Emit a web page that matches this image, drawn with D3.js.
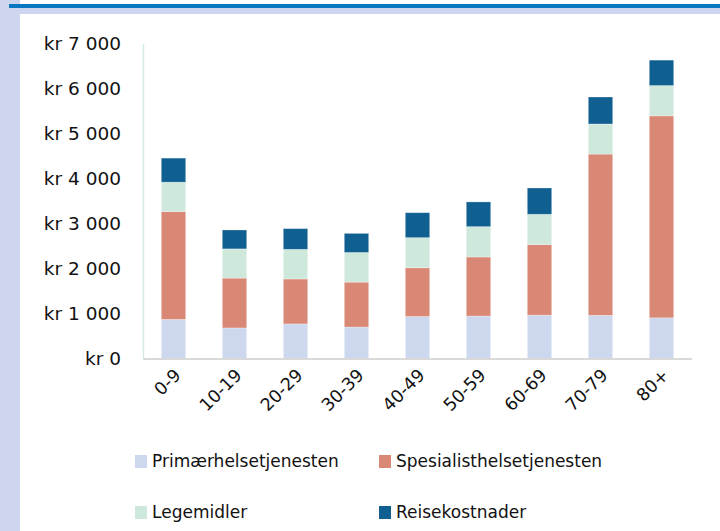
<!DOCTYPE html>
<html>
<head>
<meta charset="utf-8">
<script src="https://cdn.jsdelivr.net/npm/d3@7/dist/d3.min.js"></script>
<style>
  body { margin: 0; background: #fff; }
  svg { display: block; font-family: "DejaVu Sans", sans-serif; }
</style>
</head>
<body>
<div id="target"></div>
<script>
// age groups and cost per series (kr)
let ageGroups = ["0-9", "10-19", "20-29", "30-39", "40-49", "50-59", "60-69", "70-79", "80+"]
let primaer = [870, 680, 770, 700, 935, 945, 965, 960, 905]
let spesialist = [2400, 1110, 1000, 1000, 1085, 1315, 1570, 3590, 4495]
let legemidler = [655, 650, 660, 660, 670, 675, 675, 670, 675]
let reise = [535, 420, 460, 425, 555, 550, 585, 600, 566]
let seriesNames = ["Primærhelsetjenesten", "Spesialisthelsetjenesten", "Legemidler", "Reisekostnader"]
let seriesColors = ["#cdd7ee", "#d98875", "#cfe8dc", "#0f5f91"]
let yTicks = [0, 1000, 2000, 3000, 4000, 5000, 6000, 7000]

let width = 720, height = 531
let svg = d3.select("#target").append("svg")
    .attr("width", width).attr("height", height)

// frame decoration
svg.append("rect").attr("x", 0).attr("y", 0).attr("width", 20).attr("height", height).attr("fill", "#cdd6ee")
svg.append("rect").attr("x", 0).attr("y", 8).attr("width", width).attr("height", 6).attr("fill", "#cdd6ee")
svg.append("rect").attr("x", 9).attr("y", 4).attr("width", width - 9).attr("height", 4).attr("fill", "#0a78c0")

let rows = ageGroups.map((g, i) => ({
    group: g,
    s0: primaer[i], s1: spesialist[i], s2: legemidler[i], s3: reise[i]
}))
let stack = d3.stack().keys(["s0", "s1", "s2", "s3"])(rows)

let x = d3.scaleBand().domain(ageGroups).range([143, 692]).paddingInner(0.6).paddingOuter(0.3)
let y = d3.scaleLinear().domain([0, 7000]).range([358.5, 44])

// axes lines
svg.append("line").attr("x1", 143.5).attr("x2", 143.5).attr("y1", 44).attr("y2", 358.5)
    .attr("stroke", "#d4ebdf").attr("stroke-width", 1.5)

let layers = svg.append("g").selectAll("g").data(stack).enter().append("g")
    .attr("fill", (d, i) => seriesColors[i])
layers.selectAll("rect").data(d => d).enter().append("rect")
    .attr("x", d => x(d.data.group))
    .attr("width", x.bandwidth())
    .attr("y", d => y(d[1]))
    .attr("height", d => y(d[0]) - y(d[1]))
    .attr("stroke", "rgba(255,255,255,0.35)")
    .attr("stroke-width", 0.8)

svg.append("line").attr("x1", 143).attr("x2", 692).attr("y1", 359).attr("y2", 359)
    .attr("stroke", "#d9d9d9").attr("stroke-width", 2)

// y tick labels
let fmt = v => "kr " + d3.format(",")(v).replace(/,/g, " ")
svg.append("g").selectAll("text").data(yTicks).enter().append("text")
    .attr("x", 121).attr("y", d => y(d))
    .attr("dy", "0.35em")
    .attr("text-anchor", "end")
    .attr("font-size", 18.5)
    .attr("fill", "#111")
    .text(d => fmt(d))

// x tick labels, rotated
svg.append("g").selectAll("text").data(ageGroups).enter().append("text")
    .attr("transform", d => `translate(${x(d) + x.bandwidth() / 2 + 4},${372}) rotate(-45)`)
    .attr("text-anchor", "end")
    .attr("dy", "0.35em")
    .attr("font-size", 17.5)
    .attr("fill", "#111")
    .text(d => d)

// legend
let legendPos = [[135, 461], [379, 461], [135, 512], [379, 512]]
let legend = svg.append("g").selectAll("g").data(seriesNames).enter().append("g")
    .attr("transform", (d, i) => `translate(${legendPos[i][0]},${legendPos[i][1]})`)
legend.append("rect").attr("x", 0).attr("y", -6).attr("width", 12).attr("height", 13)
    .attr("fill", (d, i) => seriesColors[i])
legend.append("text").attr("x", 17).attr("y", 0).attr("dy", "0.35em")
    .attr("font-size", 17).attr("fill", "#111")
    .text(d => d)
</script>
</body>
</html>
